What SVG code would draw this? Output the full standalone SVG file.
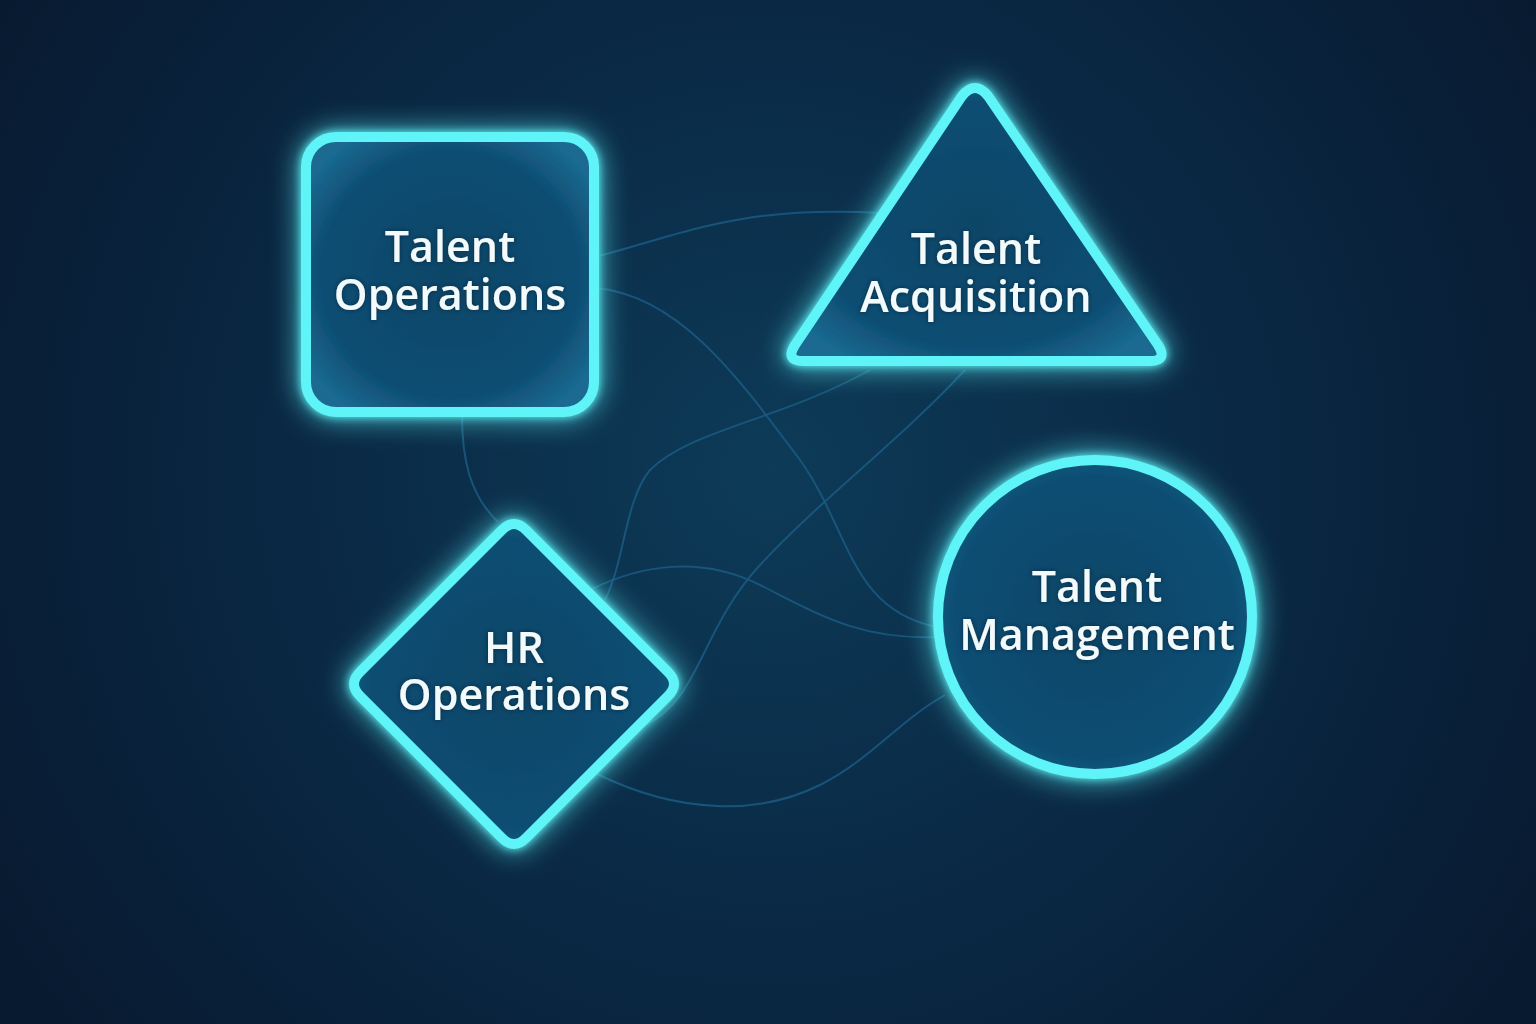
<svg xmlns="http://www.w3.org/2000/svg" width="1536" height="1024" viewBox="0 0 1536 1024">
  <defs>
    <radialGradient id="bg" cx="770" cy="470" r="900" gradientUnits="userSpaceOnUse">
      <stop offset="0" stop-color="#0d3b58"/>
      <stop offset="0.5" stop-color="#0a2945"/>
      <stop offset="1" stop-color="#081a30"/>
    </radialGradient>
    <radialGradient id="fillG" cx="0.5" cy="0.5" r="0.6">
      <stop offset="0" stop-color="#0d4567"/>
      <stop offset="0.75" stop-color="#0f4e73"/>
      <stop offset="1" stop-color="#1a6a92"/>
    </radialGradient>
    <filter id="glow" x="-30%" y="-30%" width="160%" height="160%">
      <feGaussianBlur in="SourceGraphic" stdDeviation="14" result="b1"/>
      <feGaussianBlur in="SourceGraphic" stdDeviation="4" result="b2"/>
      <feMerge>
        <feMergeNode in="b1"/>
        <feMergeNode in="b2"/>
        <feMergeNode in="SourceGraphic"/>
      </feMerge>
    </filter>
    <filter id="tglow" x="-10%" y="-30%" width="120%" height="160%">
      <feGaussianBlur in="SourceAlpha" stdDeviation="2" result="s"/>
      <feFlood flood-color="#032236" flood-opacity="0.8"/>
      <feComposite in2="s" operator="in" result="sh"/>
      <feMerge>
        <feMergeNode in="sh"/>
        <feMergeNode in="SourceGraphic"/>
      </feMerge>
    </filter>
  </defs>
  <style>
    .edge { fill: none; stroke: #1a5a82; stroke-width: 2; opacity: 0.85; }
    .shape { fill: url(#fillG); stroke: #5ff4f8; stroke-width: 10; stroke-linejoin: round; filter: url(#glow); }
    .label { font-family: "Open Sans", "Noto Sans", sans-serif; font-size: 43px; font-weight: 600; fill: #f2fafc; text-anchor: middle; filter: url(#tglow); }
  </style>

  <rect width="1536" height="1024" fill="url(#bg)"/>

  <g id="connectors">
    <path class="edge" d="M595,257 C680,235 740,205 880,213"/>
    <path class="edge" d="M595,288 C680,295 740,380 800,460 C850,530 850,610 937,627"/>
    <path class="edge" d="M870,370 C780,420 690,430 650,470 C625,500 625,560 605,600"/>
    <path class="edge" d="M965,370 C900,440 820,500 760,565 C700,630 700,700 645,725"/>
    <path class="edge" d="M590,590 C640,565 700,555 760,585 C820,615 860,640 937,637"/>
    <path class="edge" d="M595,773 C680,815 760,815 820,785 C870,760 900,720 945,695"/>
    <path class="edge" d="M462,415 C462,460 470,495 498,522"/>
  </g>

  <g id="node-talent-operations">
    <rect class="shape" x="306" y="137" width="288" height="275" rx="30"/>
    <text class="label" x="450" y="262">Talent<tspan x="450" dy="48">Operations</tspan></text>
  </g>

  <g id="node-talent-acquisition">
    <path class="shape" d="M962,96 Q975,80 988,96 L1158,345 Q1168,361 1150,361 L803,361 Q785,361 795,345 Z"/>
    <text class="label" x="976" y="264">Talent<tspan x="976" dy="48">Acquisition</tspan></text>
  </g>

  <g id="node-hr-operations">
    <path class="shape" d="M502,530 Q514,518 526,530 L668,672 Q680,684 668,696 L526,838 Q514,850 502,838 L360,696 Q348,684 360,672 Z"/>
    <text class="label" x="514" y="663">HR<tspan x="514" dy="47">Operations</tspan></text>
  </g>

  <g id="node-talent-management">
    <circle class="shape" cx="1095" cy="617" r="157"/>
    <text class="label" x="1097" y="602">Talent<tspan x="1097" dy="48">Management</tspan></text>
  </g>
</svg>
